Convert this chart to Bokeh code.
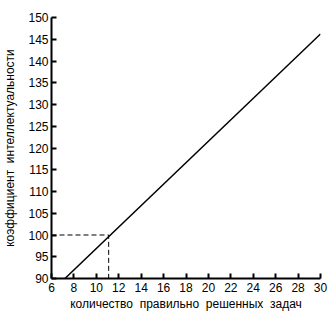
from bokeh.plotting import figure
from bokeh.models import FixedTicker, Range1d
from bokeh.embed import file_html
from bokeh.resources import INLINE

line_x = [7.2, 30.0]
line_y = [90.0, 146.2]
ref_x = [6.0, 11.1, 11.1]
ref_y = [100.0, 100.0, 90.0]
x_ticks = list(range(6, 31, 2))
y_ticks = list(range(90, 151, 5))

SP = "\u00a0\u00a0"

p = figure(width=334, height=322, output_backend="svg", toolbar_location=None,
           x_range=Range1d(6, 30), y_range=Range1d(90, 150),
           min_border_left=51, min_border_right=14, min_border_top=17, min_border_bottom=44)
p.outline_line_color = None
p.xgrid.visible = False
p.ygrid.visible = False
p.background_fill_color = "white"
p.border_fill_color = "white"

p.line(line_x, line_y, line_color="black", line_width=1.5)
p.line(ref_x, ref_y, line_color="black", line_width=1, line_dash="5 3")

for ax, ticks in ((p.xaxis[0], x_ticks), (p.yaxis[0], y_ticks)):
    ax.ticker = FixedTicker(ticks=ticks)
    ax.axis_line_width = 2
    ax.axis_line_color = "black"
    ax.major_tick_in = 5
    ax.major_tick_out = 0
    ax.major_tick_line_width = 2
    ax.minor_tick_line_color = None
    ax.major_label_text_font = "Liberation Sans"
    ax.major_label_text_font_size = "12px"
    ax.major_label_text_color = "black"
    ax.axis_label_text_font = "Liberation Sans"
    ax.axis_label_text_font_size = "12px"
    ax.axis_label_text_font_style = "normal"
    ax.axis_label_text_color = "black"

p.xaxis.axis_label = SP.join(["количество", "правильно", "решенных", "задач"])
p.yaxis.axis_label = SP.join(["коэффициент", "интеллектуальности"])
p.xaxis.major_label_standoff = 4
p.yaxis.major_label_standoff = 3
p.xaxis.axis_label_standoff = 2
p.yaxis.axis_label_standoff = 8

open("out.html", "w").write(file_html(p, INLINE))
